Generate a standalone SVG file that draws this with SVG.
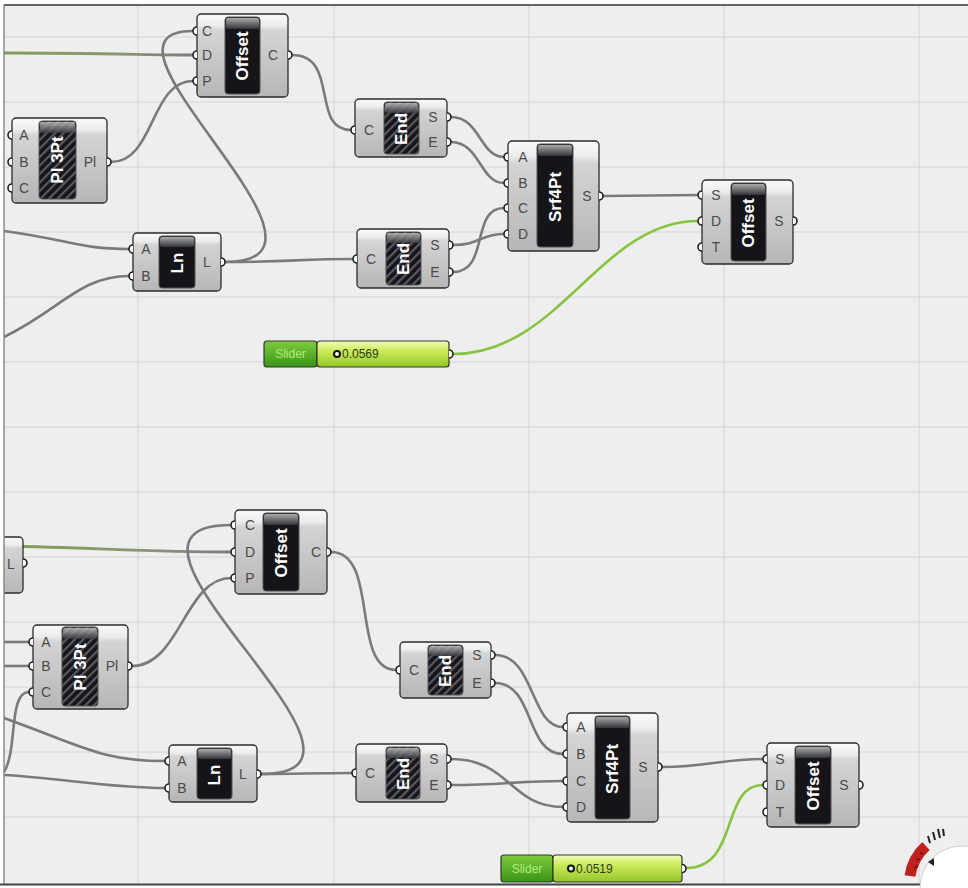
<svg xmlns="http://www.w3.org/2000/svg" width="968" height="888" viewBox="0 0 968 888">
<defs>
<linearGradient id="gBody" x1="0" y1="0" x2="0" y2="1">
<stop offset="0" stop-color="#fafafa"/><stop offset="0.14" stop-color="#ececec"/><stop offset="0.2" stop-color="#d4d4d4"/><stop offset="1" stop-color="#b6b6b6"/>
</linearGradient>
<linearGradient id="gCap" x1="0" y1="0" x2="0" y2="1">
<stop offset="0" stop-color="#c4c4c4"/><stop offset="1" stop-color="#3a3a40"/>
</linearGradient>
<linearGradient id="gTab" x1="0" y1="0" x2="0" y2="1">
<stop offset="0" stop-color="#7ccc3c"/><stop offset="1" stop-color="#3a9418"/>
</linearGradient>
<linearGradient id="gVal" x1="0" y1="0" x2="0" y2="1">
<stop offset="0" stop-color="#f2fcc0"/><stop offset="0.35" stop-color="#cdec5c"/><stop offset="1" stop-color="#92c62a"/>
</linearGradient>
<linearGradient id="gGreenGray" x1="0" y1="0" x2="1" y2="0">
<stop offset="0" stop-color="#7e9e52"/><stop offset="0.6" stop-color="#8a9674"/><stop offset="1" stop-color="#7c7c7c"/>
</linearGradient>
<pattern id="hatch" width="6" height="6" patternUnits="userSpaceOnUse" patternTransform="rotate(45)">
<rect width="6" height="6" fill="#15151b"/><rect width="2.2" height="6" fill="#5a5a60"/>
</pattern>
<clipPath id="canvasClip"><rect x="4" y="5" width="964" height="879"/></clipPath>
<style>
.body{fill:url(#gBody);stroke:#2b2b2b;stroke-width:1.3}
.panel{fill:#141419;stroke:#555;stroke-width:1}
.hpanel{fill:url(#hatch);stroke:#555;stroke-width:1}
.cap{fill:url(#gCap);opacity:0.85}
.title{font-family:"Liberation Sans",Arial,sans-serif;font-weight:bold;font-size:17px;fill:#fff;text-anchor:middle;dominant-baseline:central}
.pl{font-family:"Liberation Sans",Arial,sans-serif;font-size:14px;fill:#4a4a4a;text-anchor:middle;dominant-baseline:central}
.port{fill:#fff;stroke:#1e1e1e;stroke-width:1.6}
.wire{fill:none;stroke:#7a7a7a;stroke-width:2.6}
.gwire{fill:none;stroke:#86c440;stroke-width:2.6}
.ggwire{fill:none;stroke:url(#gGreenGray);stroke-width:2.8}
.grid{stroke:#d4d4d4;stroke-width:1}
.tab{fill:url(#gTab);stroke:#2f3a28;stroke-width:1.2}
.val{fill:url(#gVal);stroke:#2f3a28;stroke-width:1.2}
.tabt{font-family:"Liberation Sans",Arial,sans-serif;font-size:12px;fill:#b4ea78;text-anchor:middle;dominant-baseline:central}
.valt{font-family:"Liberation Sans",Arial,sans-serif;font-size:12px;fill:#2e3a1a;dominant-baseline:central}
</style>
</defs>

<rect x="0" y="0" width="968" height="888" fill="#ffffff"/>
<rect x="4" y="5" width="964" height="879" fill="#eeeeee"/>

<g id="grid" clip-path="url(#canvasClip)">
<line class="grid" x1="138" y1="5" x2="138" y2="884"/>
<line class="grid" x1="334" y1="5" x2="334" y2="884"/>
<line class="grid" x1="529" y1="5" x2="529" y2="884"/>
<line class="grid" x1="724" y1="5" x2="724" y2="884"/>
<line class="grid" x1="919" y1="5" x2="919" y2="884"/>
<line class="grid" x1="4" y1="37" x2="968" y2="37"/>
<line class="grid" x1="4" y1="102" x2="968" y2="102"/>
<line class="grid" x1="4" y1="167" x2="968" y2="167"/>
<line class="grid" x1="4" y1="232" x2="968" y2="232"/>
<line class="grid" x1="4" y1="297" x2="968" y2="297"/>
<line class="grid" x1="4" y1="362" x2="968" y2="362"/>
<line class="grid" x1="4" y1="427" x2="968" y2="427"/>
<line class="grid" x1="4" y1="492" x2="968" y2="492"/>
<line class="grid" x1="4" y1="557" x2="968" y2="557"/>
<line class="grid" x1="4" y1="622" x2="968" y2="622"/>
<line class="grid" x1="4" y1="687" x2="968" y2="687"/>
<line class="grid" x1="4" y1="752" x2="968" y2="752"/>
<line class="grid" x1="4" y1="817" x2="968" y2="817"/>
</g>

<g id="connectors" clip-path="url(#canvasClip)">
<path class="ggwire" d="M4,53 C100,53 150,55 193,55"/>
<path class="wire" d="M225,262 C370,262 70,31 193,31"/>
<path class="wire" d="M111,162 C155,162 150,81 193,81"/>
<path class="wire" d="M4,231 C70,240 80,249 129,249"/>
<path class="wire" d="M4,337 C60,310 80,276 129,276"/>
<path class="wire" d="M292,55 C340,55 310,130 351,130"/>
<path class="wire" d="M225,262 C290,262 300,259 353,259"/>
<path class="wire" d="M451,117 C480,117 480,157 504,157"/>
<path class="wire" d="M451,142 C480,142 480,183 504,183"/>
<path class="wire" d="M453,245 C480,245 480,234 504,234"/>
<path class="wire" d="M453,272 C490,272 470,208 504,208"/>
<path class="wire" d="M603,196 C650,196 650,195 698,195"/>
<path class="gwire" d="M453,354 C560,354 600,221 698,221"/>

<path class="ggwire" d="M4,546 C100,548 150,552 231,552"/>
<path class="wire" d="M4,642 L29,642"/>
<path class="wire" d="M4,666 L29,666"/>
<path class="wire" d="M29,692 C8,692 18,750 4,772"/>
<path class="wire" d="M4,718 C80,745 100,761 165,761"/>
<path class="wire" d="M4,775 C60,778 110,788 165,788"/>
<path class="wire" d="M261,774 C420,774 70,525 231,525"/>
<path class="wire" d="M132,666 C180,666 185,578 231,578"/>
<path class="wire" d="M331,552 C380,552 350,670 396,670"/>
<path class="wire" d="M261,774 C300,774 310,773 352,773"/>
<path class="wire" d="M495,655 C535,655 530,727 563,727"/>
<path class="wire" d="M495,683 C535,683 525,754 563,754"/>
<path class="wire" d="M451,759 C510,759 510,807 563,807"/>
<path class="wire" d="M451,785 C500,785 520,781 563,781"/>
<path class="wire" d="M662,767 C710,767 720,759 763,759"/>
<path class="gwire" d="M686,868 C740,868 720,785 763,785"/>
</g>

<!-- TOP -->
<g id="offset1">
<rect class="body" x="197" y="14" width="91" height="83" rx="4"/>
<rect class="panel" x="225" y="17" width="35" height="77" rx="3"/>
<rect class="cap" x="226" y="18" width="33" height="11" rx="2"/>
<text class="title" transform="translate(242.5,56) rotate(-90)">Offset</text>
<text class="pl" x="207" y="31">C</text><text class="pl" x="207" y="55">D</text><text class="pl" x="207" y="81">P</text>
<text class="pl" x="273" y="55">C</text>
<path class="port" d="M197,27 a4,4 0 0 0 0,8"/><path class="port" d="M197,51 a4,4 0 0 0 0,8"/><path class="port" d="M197,77 a4,4 0 0 0 0,8"/>
<path class="port" d="M288,51 a4,4 0 0 1 0,8"/>
</g>

<g id="pl3pt1">
<rect class="body" x="12" y="118" width="95" height="85" rx="4"/>
<rect class="hpanel" x="39" y="121" width="37" height="78" rx="3"/>
<rect class="cap" x="40" y="122" width="35" height="11" rx="2" opacity="0.5"/>
<text class="title" transform="translate(57.5,160) rotate(-90)">Pl 3Pt</text>
<text class="pl" x="24" y="135">A</text><text class="pl" x="24" y="162">B</text><text class="pl" x="24" y="188">C</text>
<text class="pl" x="90" y="162">Pl</text>
<path class="port" d="M12,131 a4,4 0 0 0 0,8"/><path class="port" d="M12,158 a4,4 0 0 0 0,8"/><path class="port" d="M12,184 a4,4 0 0 0 0,8"/>
<path class="port" d="M107,158 a4,4 0 0 1 0,8"/>
</g>

<g id="ln1">
<rect class="body" x="133" y="233" width="88" height="58" rx="4"/>
<rect class="panel" x="159" y="236" width="36" height="52" rx="3"/>
<rect class="cap" x="160" y="237" width="34" height="10" rx="2"/>
<text class="title" transform="translate(177,263) rotate(-90)">Ln</text>
<text class="pl" x="146" y="249">A</text><text class="pl" x="146" y="276">B</text>
<text class="pl" x="207" y="262">L</text>
<path class="port" d="M133,245 a4,4 0 0 0 0,8"/><path class="port" d="M133,272 a4,4 0 0 0 0,8"/>
<path class="port" d="M221,258 a4,4 0 0 1 0,8"/>
</g>

<g id="end1">
<rect class="body" x="355" y="99" width="92" height="58" rx="4"/>
<rect class="hpanel" x="384" y="102" width="35" height="52" rx="3"/>
<rect class="cap" x="385" y="103" width="33" height="10" rx="2" opacity="0.5"/>
<text class="title" transform="translate(401.5,129) rotate(-90)">End</text>
<text class="pl" x="369" y="130">C</text>
<text class="pl" x="433" y="117">S</text><text class="pl" x="433" y="142">E</text>
<path class="port" d="M355,126 a4,4 0 0 0 0,8"/>
<path class="port" d="M447,113 a4,4 0 0 1 0,8"/><path class="port" d="M447,138 a4,4 0 0 1 0,8"/>
</g>

<g id="end2">
<rect class="body" x="357" y="229" width="92" height="59" rx="4"/>
<rect class="hpanel" x="386" y="232" width="35" height="53" rx="3"/>
<rect class="cap" x="387" y="233" width="33" height="10" rx="2" opacity="0.5"/>
<text class="title" transform="translate(403.5,259) rotate(-90)">End</text>
<text class="pl" x="371" y="259">C</text>
<text class="pl" x="435" y="245">S</text><text class="pl" x="435" y="272">E</text>
<path class="port" d="M357,255 a4,4 0 0 0 0,8"/>
<path class="port" d="M449,241 a4,4 0 0 1 0,8"/><path class="port" d="M449,268 a4,4 0 0 1 0,8"/>
</g>

<g id="srf4pt1">
<rect class="body" x="508" y="141" width="91" height="110" rx="4"/>
<rect class="panel" x="537" y="144" width="36" height="103" rx="3"/>
<rect class="cap" x="538" y="145" width="34" height="11" rx="2"/>
<text class="title" transform="translate(555,197) rotate(-90)">Srf4Pt</text>
<text class="pl" x="523" y="157">A</text><text class="pl" x="523" y="183">B</text><text class="pl" x="523" y="208">C</text><text class="pl" x="523" y="234">D</text>
<text class="pl" x="587" y="196">S</text>
<path class="port" d="M508,153 a4,4 0 0 0 0,8"/><path class="port" d="M508,179 a4,4 0 0 0 0,8"/><path class="port" d="M508,204 a4,4 0 0 0 0,8"/><path class="port" d="M508,230 a4,4 0 0 0 0,8"/>
<path class="port" d="M599,192 a4,4 0 0 1 0,8"/>
</g>

<g id="offset2">
<rect class="body" x="702" y="180" width="91" height="84" rx="4"/>
<rect class="panel" x="731" y="183" width="35" height="78" rx="3"/>
<rect class="cap" x="732" y="184" width="33" height="11" rx="2"/>
<text class="title" transform="translate(748.5,223) rotate(-90)">Offset</text>
<text class="pl" x="716" y="195">S</text><text class="pl" x="716" y="221">D</text><text class="pl" x="716" y="247">T</text>
<text class="pl" x="779" y="221">S</text>
<path class="port" d="M702,191 a4,4 0 0 0 0,8"/><path class="port" d="M702,217 a4,4 0 0 0 0,8"/><path class="port" d="M702,243 a4,4 0 0 0 0,8"/>
<path class="port" d="M793,217 a4,4 0 0 1 0,8"/>
</g>

<g id="slider1">
<rect class="tab" x="264" y="341" width="53" height="26" rx="3"/>
<text class="tabt" x="290.5" y="354">Slider</text>
<rect class="val" x="317" y="341" width="132" height="26" rx="3"/>
<circle cx="337" cy="354" r="3" fill="#fff" stroke="#111" stroke-width="2"/>
<text class="valt" x="342" y="354">0.0569</text>
<path class="port" d="M449,350 a4,4 0 0 1 0,8"/>
</g>

<!-- BOTTOM -->
<g id="partialL" clip-path="url(#canvasClip)">
<rect class="body" x="-20" y="537" width="43" height="56" rx="4"/>
<text class="pl" x="11" y="564">L</text>
<path class="port" d="M23,559 a4,4 0 0 1 0,8"/>
</g>

<g id="offset3">
<rect class="body" x="235" y="510" width="92" height="84" rx="4"/>
<rect class="panel" x="263" y="513" width="36" height="78" rx="3"/>
<rect class="cap" x="264" y="514" width="34" height="11" rx="2"/>
<text class="title" transform="translate(281,553) rotate(-90)">Offset</text>
<text class="pl" x="250" y="525">C</text><text class="pl" x="250" y="552">D</text><text class="pl" x="250" y="578">P</text>
<text class="pl" x="316" y="552">C</text>
<path class="port" d="M235,521 a4,4 0 0 0 0,8"/><path class="port" d="M235,548 a4,4 0 0 0 0,8"/><path class="port" d="M235,574 a4,4 0 0 0 0,8"/>
<path class="port" d="M327,548 a4,4 0 0 1 0,8"/>
</g>

<g id="pl3pt2">
<rect class="body" x="33" y="625" width="95" height="84" rx="4"/>
<rect class="hpanel" x="62" y="627" width="36" height="79" rx="3"/>
<rect class="cap" x="63" y="628" width="34" height="11" rx="2" opacity="0.5"/>
<text class="title" transform="translate(80,667) rotate(-90)">Pl 3Pt</text>
<text class="pl" x="46" y="642">A</text><text class="pl" x="46" y="666">B</text><text class="pl" x="46" y="692">C</text>
<text class="pl" x="112" y="666">Pl</text>
<path class="port" d="M33,638 a4,4 0 0 0 0,8"/><path class="port" d="M33,662 a4,4 0 0 0 0,8"/><path class="port" d="M33,688 a4,4 0 0 0 0,8"/>
<path class="port" d="M128,662 a4,4 0 0 1 0,8"/>
</g>

<g id="ln2">
<rect class="body" x="169" y="745" width="88" height="57" rx="4"/>
<rect class="panel" x="197" y="748" width="35" height="51" rx="3"/>
<rect class="cap" x="198" y="749" width="33" height="10" rx="2"/>
<text class="title" transform="translate(214.5,775) rotate(-90)">Ln</text>
<text class="pl" x="182" y="761">A</text><text class="pl" x="182" y="788">B</text>
<text class="pl" x="243" y="774">L</text>
<path class="port" d="M169,757 a4,4 0 0 0 0,8"/><path class="port" d="M169,784 a4,4 0 0 0 0,8"/>
<path class="port" d="M257,770 a4,4 0 0 1 0,8"/>
</g>

<g id="end3">
<rect class="body" x="400" y="642" width="91" height="56" rx="4"/>
<rect class="hpanel" x="428" y="645" width="35" height="50" rx="3"/>
<rect class="cap" x="429" y="646" width="33" height="10" rx="2" opacity="0.5"/>
<text class="title" transform="translate(445.5,671) rotate(-90)">End</text>
<text class="pl" x="414" y="670">C</text>
<text class="pl" x="477" y="655">S</text><text class="pl" x="477" y="683">E</text>
<path class="port" d="M400,666 a4,4 0 0 0 0,8"/>
<path class="port" d="M491,651 a4,4 0 0 1 0,8"/><path class="port" d="M491,679 a4,4 0 0 1 0,8"/>
</g>

<g id="end4">
<rect class="body" x="356" y="744" width="91" height="58" rx="4"/>
<rect class="hpanel" x="386" y="747" width="34" height="52" rx="3"/>
<rect class="cap" x="387" y="748" width="32" height="10" rx="2" opacity="0.5"/>
<text class="title" transform="translate(403,774) rotate(-90)">End</text>
<text class="pl" x="370" y="773">C</text>
<text class="pl" x="434" y="759">S</text><text class="pl" x="434" y="785">E</text>
<path class="port" d="M356,769 a4,4 0 0 0 0,8"/>
<path class="port" d="M447,755 a4,4 0 0 1 0,8"/><path class="port" d="M447,781 a4,4 0 0 1 0,8"/>
</g>

<g id="srf4pt2">
<rect class="body" x="567" y="713" width="91" height="109" rx="4"/>
<rect class="panel" x="595" y="716" width="35" height="103" rx="3"/>
<rect class="cap" x="596" y="717" width="33" height="11" rx="2"/>
<text class="title" transform="translate(612.5,769) rotate(-90)">Srf4Pt</text>
<text class="pl" x="581" y="727">A</text><text class="pl" x="581" y="754">B</text><text class="pl" x="581" y="781">C</text><text class="pl" x="581" y="807">D</text>
<text class="pl" x="643" y="767">S</text>
<path class="port" d="M567,723 a4,4 0 0 0 0,8"/><path class="port" d="M567,750 a4,4 0 0 0 0,8"/><path class="port" d="M567,777 a4,4 0 0 0 0,8"/><path class="port" d="M567,803 a4,4 0 0 0 0,8"/>
<path class="port" d="M658,763 a4,4 0 0 1 0,8"/>
</g>

<g id="offset4">
<rect class="body" x="767" y="743" width="92" height="84" rx="4"/>
<rect class="panel" x="795" y="746" width="36" height="78" rx="3"/>
<rect class="cap" x="796" y="747" width="34" height="11" rx="2"/>
<text class="title" transform="translate(813,786) rotate(-90)">Offset</text>
<text class="pl" x="780" y="759">S</text><text class="pl" x="780" y="785">D</text><text class="pl" x="780" y="812">T</text>
<text class="pl" x="844" y="785">S</text>
<path class="port" d="M767,755 a4,4 0 0 0 0,8"/><path class="port" d="M767,781 a4,4 0 0 0 0,8"/><path class="port" d="M767,808 a4,4 0 0 0 0,8"/>
<path class="port" d="M859,781 a4,4 0 0 1 0,8"/>
</g>

<g id="slider2">
<rect class="tab" x="501" y="855" width="52" height="27" rx="3"/>
<text class="tabt" x="527" y="868.5">Slider</text>
<rect class="val" x="553" y="855" width="129" height="27" rx="3"/>
<circle cx="571" cy="868.5" r="3" fill="#fff" stroke="#111" stroke-width="2"/>
<text class="valt" x="576" y="868.5">0.0519</text>
<path class="port" d="M682,864.5 a4,4 0 0 1 0,8"/>
</g>

<!-- frame -->
<line x1="4" y1="5" x2="968" y2="5" stroke="#333" stroke-width="1.5"/>
<line x1="4" y1="5" x2="4" y2="884" stroke="#8a8a8a" stroke-width="1.5"/>
<line x1="0" y1="884.5" x2="968" y2="884.5" stroke="#444" stroke-width="2"/>

<g id="widget">
<circle cx="962" cy="888" r="42" fill="#ffffff" stroke="#d0d0d0" stroke-width="1"/>
<path d="M910,876 A50,50 0 0 1 926,846" fill="none" stroke="#c02020" stroke-width="11"/>
<path d="M914,868 L918,866 M916,860 L920,859 M920,853 L923,854" stroke="#7a1010" stroke-width="1.5"/>
<path d="M930,843 L928,836 M935,840 L933,832 M940,838 L938,829 M944,836 L943,829" stroke="#222" stroke-width="2"/>
<path d="M928,862 L934,858 L934,866 Z" fill="#222"/>
</g>
</svg>
